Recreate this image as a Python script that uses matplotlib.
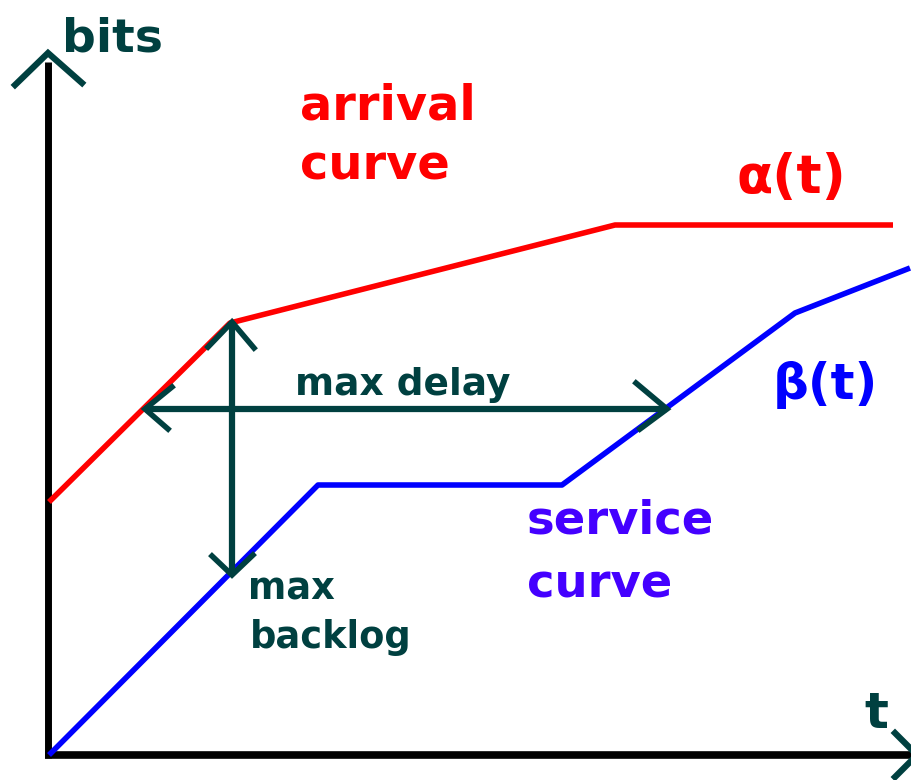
import matplotlib
matplotlib.use("Agg")
import matplotlib.pyplot as plt

# colours
TEAL = "#004040"
RED = "#ff0000"
BLUE = "#0000ff"
VIOLET = "#4400ff"

# curves (pixel coords, y grows downward)
arrival_t = [49, 230, 615, 893]
arrival_v = [502, 323, 225, 225]
service_t = [49, 318, 562, 795, 910]
service_v = [755, 485, 485, 313, 268]

# axes
yaxis_x = [48, 48]
yaxis_y = [62, 758]
xaxis_x = [45, 912]
xaxis_y = [755, 755]
yhead_x = [15, 48, 82]
yhead_y = [85, 53, 83]
xhead_x = [895, 917, 895]
xhead_y = [733, 755, 777]

# max delay arrow
delay_x = [145, 667]
delay_y = [409, 409]
delay_left_x = [172, 145, 168]
delay_left_y = [387, 409, 429]
delay_right_x = [636, 667, 640]
delay_right_y = [383, 409, 429]

# max backlog arrow
backlog_x = [232, 232]
backlog_y = [322, 575]
backlog_top_x = [208, 232, 254]
backlog_top_y = [347, 322, 348]
backlog_bot_x = [212, 232, 253]
backlog_bot_y = [556, 575, 555]

fig = plt.figure(figsize=(9.12, 7.8), dpi=100)
ax = fig.add_axes([0, 0, 1, 1])
ax.set_xlim(0, 912)
ax.set_ylim(780, 0)
ax.axis("off")

# axes lines
ax.plot(yaxis_x, yaxis_y, color="black", lw=5, solid_capstyle="butt")
ax.plot(xaxis_x, xaxis_y, color="black", lw=5.5, solid_capstyle="butt")
ax.plot(yhead_x, yhead_y, color=TEAL, lw=4.5, solid_joinstyle="miter")
ax.plot(xhead_x, xhead_y, color=TEAL, lw=4.5, solid_joinstyle="miter")

# curves
ax.plot(arrival_t, arrival_v, color=RED, lw=4, solid_capstyle="butt")
ax.plot(service_t, service_v, color=BLUE, lw=4, solid_capstyle="butt")

# arrows
ax.plot(delay_x, delay_y, color=TEAL, lw=4.5, solid_capstyle="butt")
ax.plot(delay_left_x, delay_left_y, color=TEAL, lw=4, solid_joinstyle="miter")
ax.plot(delay_right_x, delay_right_y, color=TEAL, lw=4, solid_joinstyle="miter")
ax.plot(backlog_x, backlog_y, color=TEAL, lw=4.5, solid_capstyle="butt")
ax.plot(backlog_top_x, backlog_top_y, color=TEAL, lw=4, solid_joinstyle="miter")
ax.plot(backlog_bot_x, backlog_bot_y, color=TEAL, lw=4, solid_joinstyle="miter")

# labels
kw = dict(fontweight="bold", ha="left", va="baseline", family="DejaVu Sans")
ax.text(62, 51, "bits", color=TEAL, fontsize=34, **kw)
ax.text(864, 728, "t", color=TEAL, fontsize=36, **kw)
ax.text(300, 119, "arrival", color=RED, fontsize=34.5, **kw)
ax.text(300, 179, "curve", color=RED, fontsize=34.5, **kw)
ax.text(737, 193, "α(t)", color=RED, fontsize=38, **kw)
ax.text(773, 399, "β(t)", color=BLUE, fontsize=36, **kw)
ax.text(295, 395, "max delay", color=TEAL, fontsize=27, **kw)
ax.text(527, 533, "service", color=VIOLET, fontsize=33.5, **kw)
ax.text(527, 598, "curve", color=VIOLET, fontsize=33.5, **kw)
ax.text(248, 599, "max", color=TEAL, fontsize=26.5, **kw)
ax.text(250, 648, "backlog", color=TEAL, fontsize=26.5, **kw)

fig.savefig("out.png", dpi=100)
